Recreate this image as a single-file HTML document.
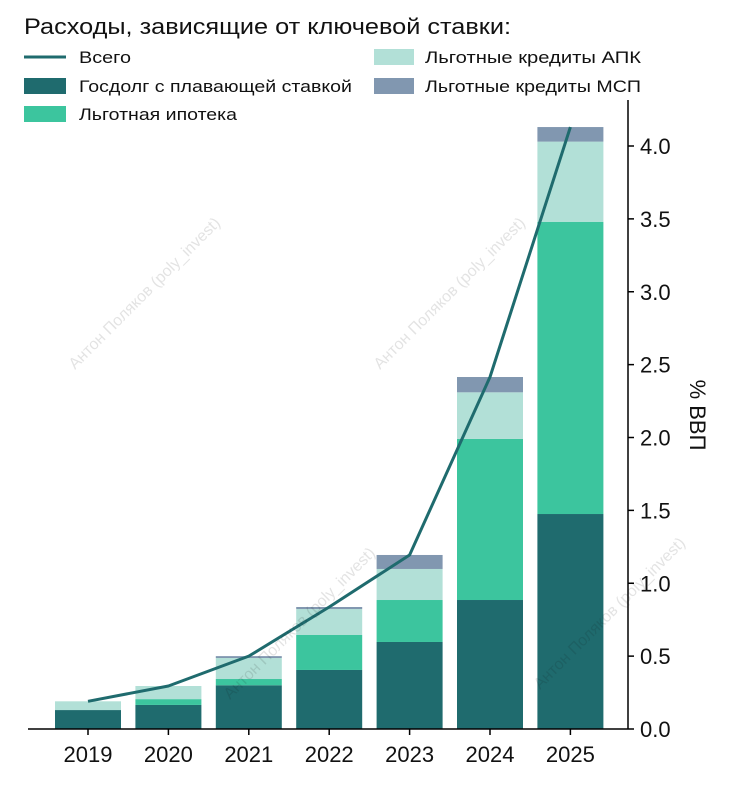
<!DOCTYPE html>
<html><head><meta charset="utf-8"><style>
html,body{margin:0;padding:0;background:#fff;}
svg text{font-family:"Liberation Sans Narrow","Liberation Sans",sans-serif;fill:#111;}
</style></head><body>
<svg id="chart" width="740" height="791" xmlns="http://www.w3.org/2000/svg">
<text x="24" y="34" font-size="22" textLength="487" lengthAdjust="spacingAndGlyphs">Расходы, зависящие от ключевой ставки:</text>
<g>
 <g><line x1="24" y1="57" x2="66" y2="57" stroke="#1f6b6e" stroke-width="3"/><text x="79" y="63" font-size="17" textLength="52" lengthAdjust="spacingAndGlyphs">Всего</text></g>
 <g><rect x="24" y="78" width="42" height="16" fill="#1f6b6e"/><text x="79" y="92" font-size="17" textLength="273" lengthAdjust="spacingAndGlyphs">Госдолг с плавающей ставкой</text></g>
 <g><rect x="24" y="106" width="42" height="16" fill="#3cc59e"/><text x="79" y="120" font-size="17" textLength="158" lengthAdjust="spacingAndGlyphs">Льготная ипотека</text></g>
 <g><rect x="374" y="49" width="40" height="16" fill="#b2e0d7"/><text x="425" y="63" font-size="17" textLength="216" lengthAdjust="spacingAndGlyphs">Льготные кредиты АПК</text></g>
 <g><rect x="374" y="78" width="40" height="16" fill="#8197b0"/><text x="425" y="92" font-size="17" textLength="216" lengthAdjust="spacingAndGlyphs">Льготные кредиты МСП</text></g>
</g>
<g id="bars"></g>
<g id="axes"></g>
<text transform="translate(690,415) rotate(90)" text-anchor="middle" font-size="22">% ВВП</text>
<g font-size="16" opacity="0.12">
 <text transform="translate(75,370) rotate(-45)">Антон Поляков (poly_invest)</text>
 <text transform="translate(380,370) rotate(-45)">Антон Поляков (poly_invest)</text>
 <text transform="translate(230,700) rotate(-45)">Антон Поляков (poly_invest)</text>
 <text transform="translate(540,690) rotate(-45)">Антон Поляков (poly_invest)</text>
</g>
</svg>
<script>
const years=["2019","2020","2021","2022","2023","2024","2025"];
const gosdolg=[0.13,0.165,0.30,0.405,0.597,0.885,1.475];
const ipoteka=[0.0,0.04,0.043,0.24,0.288,1.105,2.005];
const apk=[0.06,0.09,0.144,0.178,0.213,0.32,0.55];
const msp=[0.0,0.0,0.013,0.014,0.096,0.105,0.10];
const total=[0.19,0.295,0.50,0.837,1.194,2.415,4.13];
const yTicks=[0,0.5,1.0,1.5,2.0,2.5,3.0,3.5,4.0];
const NS="http://www.w3.org/2000/svg";
const y=v=>729-v*145.75;
const x=i=>88+i*80.4;
const bw=66;
function mk(t,a,p){const e=document.createElementNS(NS,t);for(const k in a)e.setAttribute(k,a[k]);p.appendChild(e);return e;}
const bars=document.getElementById('bars');
const series=[[gosdolg,'#1f6b6e','gosdolg'],[ipoteka,'#3cc59e','ipoteka'],[apk,'#b2e0d7','apk'],[msp,'#8197b0','msp']];
years.forEach((yr,i)=>{let base=0;series.forEach(s=>{const v=s[0][i];if(v>0){const r=mk('rect',{x:x(i)-bw/2,y:y(base+v),width:bw,height:y(base)-y(base+v),fill:s[1]},bars);

}base+=v;});});
const pts=total.map((v,i)=>x(i)+','+y(v)).join(' ');
const line=mk('polyline',{points:pts,fill:'none',stroke:'#1f6b6e','stroke-width':3,'stroke-linejoin':'round'},bars);


const ax=document.getElementById('axes');
const xa=mk('line',{x1:28,y1:729,x2:628,y2:729,stroke:'#000','stroke-width':1.5},ax);


const ya=mk('line',{x1:628,y1:100,x2:628,y2:729,stroke:'#000','stroke-width':1.5},ax);


years.forEach((yr,i)=>{mk('line',{x1:x(i),y1:729,x2:x(i),y2:735,stroke:'#000','stroke-width':1.5},ax);
const t=mk('text',{x:x(i),y:762,'text-anchor':'middle','font-size':22},ax);t.textContent=yr;

});
yTicks.forEach(v=>{mk('line',{x1:628,y1:y(v),x2:634,y2:y(v),stroke:'#000','stroke-width':1.5},ax);
const t=mk('text',{x:640,y:y(v)+8,'font-size':22},ax);t.textContent=v.toFixed(1);

});
</script>
</body></html>
